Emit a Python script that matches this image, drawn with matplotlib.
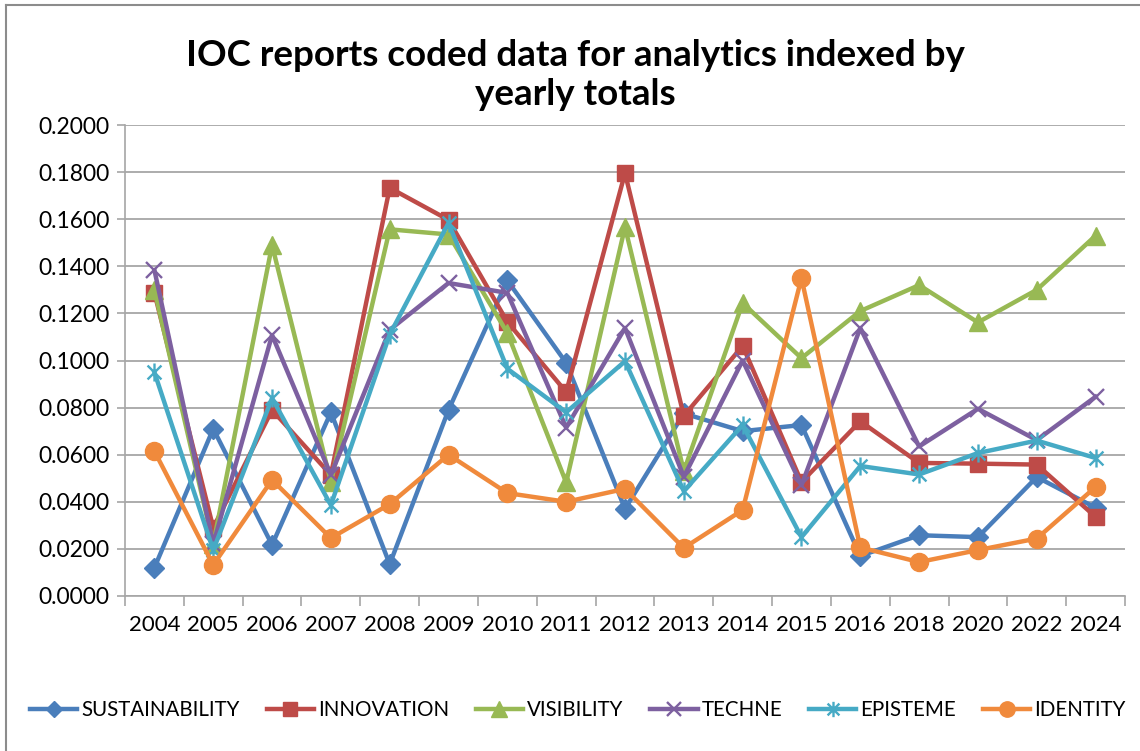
import numpy as np
import matplotlib
matplotlib.use("Agg")
import matplotlib.pyplot as plt
from matplotlib.path import Path
from matplotlib.lines import Line2D

# data
years = ["2004", "2005", "2006", "2007", "2008", "2009", "2010", "2011", "2012",
         "2013", "2014", "2015", "2016", "2018", "2020", "2022", "2024"]

sustainability = [0.0120, 0.0710, 0.0217, 0.0780, 0.0135, 0.0790, 0.1340, 0.0990, 0.0370,
                  0.0775, 0.0700, 0.0726, 0.0170, 0.0258, 0.0250, 0.0505, 0.0375]
innovation = [0.1287, 0.0290, 0.0790, 0.0514, 0.1733, 0.1597, 0.1164, 0.0866, 0.1796,
              0.0765, 0.1062, 0.0484, 0.0742, 0.0565, 0.0562, 0.0558, 0.0336]
visibility = [0.1300, 0.0220, 0.1490, 0.0484, 0.1557, 0.1535, 0.1117, 0.0482, 0.1567,
              0.0530, 0.1244, 0.1010, 0.1210, 0.1320, 0.1162, 0.1300, 0.1530]
techne = [0.1384, 0.0220, 0.1108, 0.0514, 0.1130, 0.1329, 0.1287, 0.0715, 0.1138,
          0.0506, 0.1000, 0.0470, 0.1138, 0.0635, 0.0795, 0.0662, 0.0846]
episteme = [0.0950, 0.0195, 0.0840, 0.0386, 0.1110, 0.1584, 0.0965, 0.0780, 0.0997,
            0.0445, 0.0726, 0.0250, 0.0552, 0.0516, 0.0607, 0.0660, 0.0586]
identity = [0.0615, 0.0132, 0.0493, 0.0246, 0.0390, 0.0600, 0.0437, 0.0400, 0.0455,
            0.0204, 0.0365, 0.1350, 0.0206, 0.0144, 0.0195, 0.0244, 0.0463]

names = ["SUSTAINABILITY", "INNOVATION", "VISIBILITY", "TECHNE", "EPISTEME", "IDENTITY"]
colors = ["#4A7EBB", "#BE4B48", "#98B954", "#7D60A0", "#46AAC5", "#F08A3C"]

# excel style asterisk (x with a vertical bar)
star = Path([(-1, -1), (1, 1), (-1, 1), (1, -1), (0, -1.3), (0, 1.3)],
            [Path.MOVETO, Path.LINETO, Path.MOVETO, Path.LINETO, Path.MOVETO, Path.LINETO])

styles = [
    dict(marker="D", ms=10),
    dict(marker="s", ms=12),
    dict(marker="^", ms=13),
    dict(marker="x", ms=12, mew=1.7),
    dict(marker=star, ms=13, mew=1.7, mfc="none"),
    dict(marker="o", ms=13),
]

plt.rcParams["font.family"] = ["Lato", "DejaVu Sans"]

fig = plt.figure(figsize=(11.40, 7.51), dpi=100)
ax = fig.add_axes([125/1140., 1-596/751., 1000/1140., 471/751.])

x = np.arange(len(years))
for name, col, vals, st in zip(names, colors,
                               [sustainability, innovation, visibility, techne, episteme, identity],
                               styles):
    ax.plot(x, vals, color=col, lw=3.2, label=name, mec=col, **st)

ax.set_xlim(-0.5, len(years)-0.5)
ax.set_ylim(0, 0.2)
ax.set_yticks(np.arange(0, 0.2001, 0.02))
ax.set_yticklabels(["%.4f" % v for v in np.arange(0, 0.2001, 0.02)])
ax.set_xticks(x)
ax.set_xticklabels(years)
ax.set_xticks(np.arange(-0.5, len(years)), minor=True)
ax.tick_params(axis="x", which="major", length=0, pad=14, labelsize=16)
ax.tick_params(axis="x", which="minor", length=7, color="#A6A6A6", width=1.2)
ax.tick_params(axis="y", length=6, color="#A6A6A6", width=1.2, labelsize=16.5, pad=5)
ax.grid(axis="y", color="#A6A6A6", lw=1.3)
ax.set_axisbelow(True)
for s in ["top", "right"]:
    ax.spines[s].set_visible(False)
for s in ["left", "bottom"]:
    ax.spines[s].set_color("#A6A6A6")
    ax.spines[s].set_linewidth(1.2)

fig.text(0.505, 0.9, "IOC reports coded data for analytics indexed by\nyearly totals",
         ha="center", va="center", fontsize=26.5, fontweight="bold", linespacing=1.25)

fig.legend(loc="center", bbox_to_anchor=(0.507, 0.055), ncol=6, frameon=False,
           fontsize=14.8, handlelength=2.3, columnspacing=1.3, handletextpad=0.2,
           markerscale=0.85)

# outer chart border
fig.add_artist(Line2D([6/1140., 6/1140.], [0, 1-5/751.], color="#8C8C8C", lw=1.5))
fig.add_artist(Line2D([6/1140., 1], [1-5/751., 1-5/751.], color="#8C8C8C", lw=1.5))

fig.savefig("out.png", dpi=100)
plt.close(fig)
